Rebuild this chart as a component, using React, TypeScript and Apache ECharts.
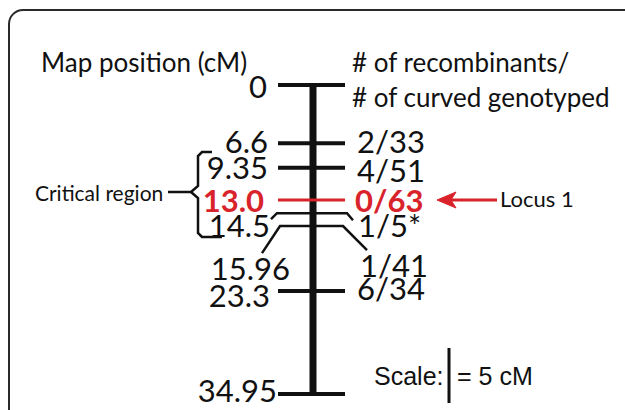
import React, { useEffect, useRef } from "react";
import * as echarts from "echarts";

// ---- data ----
const positions = [0, 6.6, 9.35, 13.0, 14.5, 15.96, 23.3, 34.95];
const positionLabels = ["0", "6.6", "9.35", "13.0", "14.5", "15.96", "23.3", "34.95"];
const ratioLabels = ["", "2/33", "4/51", "0/63", "1/5*", "1/41", "6/34", ""];
const highlightedIndex = 3;
const leftTitle = "Map position (cM)";
const rightTitle = ["# of recombinants/", "# of curved genotyped"];
const regionLabel = "Critical region";
const locusLabel = "Locus 1";
const scaleLabel = ["Scale:", "= 5 cM"];

// ---- layout (pixels, relative to bar centre / tick) ----
const AXIS_X = 313;
const RED = "#d9232b";
const INK = "#111111";
const NUM_FONT = "Lato";
const NUM_SIZE = 31;
// [rightEdgeOffsetFromCentre, dy]
const leftLabelLayout = [
  [-46, 1], [-45, -2], [-45, -1], [-49, 0], [-43, 12], [-23, 42], [-43, 4], [-36, -4],
];
// [leftEdgeOffsetFromCentre, dy]
const rightLabelLayout = [
  [44, 0], [44, -2], [44, 2], [42, 0], [45, 12], [47, 39], [44, -3], [44, 0],
];

export default function App() {
  const ref = useRef<HTMLDivElement>(null);
  useEffect(() => {
    if (!ref.current) return;
    const chart = echarts.init(ref.current, undefined, { renderer: "svg" });
    const data = positions.map((p, i) => [AXIS_X, p, i]);

    const renderItem = (params: any, api: any) => {
      const pos = api.value(1);
      const idx = api.value(2);
      const pt = api.coord([AXIS_X, pos]);
      const cx = pt[0];
      const y = pt[1];
      const red = idx === highlightedIndex;
      const color = red ? RED : INK;
      const children: any[] = [];
      if (idx === 4) {
        children.push({
          type: "polyline",
          shape: { points: [[cx - 42, y + 6], [cx - 36, y], [cx + 34, y], [cx + 40, y + 7]] },
          style: { stroke: INK, lineWidth: 2.5, fill: null },
        });
      } else if (idx === 5) {
        children.push({
          type: "polyline",
          shape: { points: [[cx - 51, y + 27], [cx - 33, y], [cx + 30, y], [cx + 54, y + 24]] },
          style: { stroke: INK, lineWidth: 2.5, fill: null },
        });
      } else {
        children.push({
          type: "line",
          shape: { x1: cx - 35, y1: y, x2: cx + 32, y2: y },
          style: { stroke: color, lineWidth: red ? 3 : 4 },
        });
      }
      const ll = leftLabelLayout[idx];
      children.push({
        type: "text",
        style: {
          text: positionLabels[idx],
          x: cx + ll[0],
          y: y + ll[1],
          align: "right",
          verticalAlign: "middle",
          fill: color,
          fontFamily: NUM_FONT,
          fontSize: NUM_SIZE,
          fontWeight: red ? "bold" : "normal",
        },
      });
      if (ratioLabels[idx]) {
        const rl = rightLabelLayout[idx];
        children.push({
          type: "text",
          style: {
            text: ratioLabels[idx],
            x: cx + rl[0],
            y: y + rl[1],
            align: "left",
            verticalAlign: "middle",
            fill: color,
            fontFamily: NUM_FONT,
            fontSize: NUM_SIZE,
            fontWeight: red ? "bold" : "normal",
          },
        });
      }
      return { type: "group", children };
    };

    const textStyle = (size: number, family = "Lato") => ({
      fontFamily: family,
      fontSize: size,
      fill: INK,
    });

    chart.setOption({
      animation: false,
      backgroundColor: "#ffffff",
      grid: { left: 0, right: 0, top: 85, bottom: 16 },
      xAxis: { type: "value", min: 0, max: 625, show: false },
      yAxis: { type: "value", min: 0, max: 34.95, inverse: true, show: false },
      series: [
        {
          type: "line",
          data: [[AXIS_X, positions[0]], [AXIS_X, positions[positions.length - 1]]],
          symbol: "none",
          lineStyle: { color: INK, width: 7 },
          silent: true,
          z: 1,
        },
        {
          type: "custom",
          data,
          renderItem,
          z: 2,
          clip: false,
        },
      ],
      graphic: [
        {
          type: "rect",
          shape: { x: 9, y: 10, width: 700, height: 500, r: 14 },
          style: { fill: null, stroke: "#2a2a2a", lineWidth: 2 },
          silent: true,
        },
        {
          type: "text",
          style: { ...textStyle(26), text: leftTitle, x: 41, y: 62, verticalAlign: "middle" },
        },
        {
          type: "text",
          style: { ...textStyle(26), text: rightTitle[0], x: 352, y: 62, verticalAlign: "middle" },
        },
        {
          type: "text",
          style: { ...textStyle(26), text: rightTitle[1], x: 352, y: 97, verticalAlign: "middle" },
        },
        {
          type: "text",
          style: { ...textStyle(21), text: regionLabel, x: 35, y: 192, verticalAlign: "middle" },
        },
        {
          type: "polyline",
          shape: {
            points: [[168, 192], [191, 192], [198, 186], [198, 156], [202, 152], [212, 152]],
          },
          style: { stroke: INK, lineWidth: 2.5, fill: null },
        },
        {
          type: "polyline",
          shape: { points: [[191, 192], [198, 198], [198, 233], [202, 237], [222, 237]] },
          style: { stroke: INK, lineWidth: 2.5, fill: null },
        },
        {
          type: "line",
          shape: { x1: 450, y1: 200, x2: 497, y2: 200 },
          style: { stroke: RED, lineWidth: 3 },
        },
        {
          type: "polygon",
          shape: { points: [[437, 200], [456, 192], [451, 200], [456, 208]] },
          style: { fill: RED, stroke: RED, lineWidth: 1 },
        },
        {
          type: "text",
          style: { ...textStyle(22), text: locusLabel, x: 500, y: 198, verticalAlign: "middle" },
        },
        {
          type: "text",
          style: {
            ...textStyle(25, "Liberation Sans"),
            text: scaleLabel[0],
            x: 374,
            y: 376,
            verticalAlign: "middle",
          },
        },
        {
          type: "line",
          shape: { x1: 449, y1: 348, x2: 449, y2: 403 },
          style: { stroke: INK, lineWidth: 3 },
        },
        {
          type: "text",
          style: {
            ...textStyle(25, "Liberation Sans"),
            text: scaleLabel[1],
            x: 457,
            y: 376,
            verticalAlign: "middle",
          },
        },
      ],
    });
    return () => chart.dispose();
  }, []);
  return (
    <div
      ref={ref}
      style={{ position: "fixed", left: 0, top: 0, width: 625, height: 410 }}
    />
  );
}
